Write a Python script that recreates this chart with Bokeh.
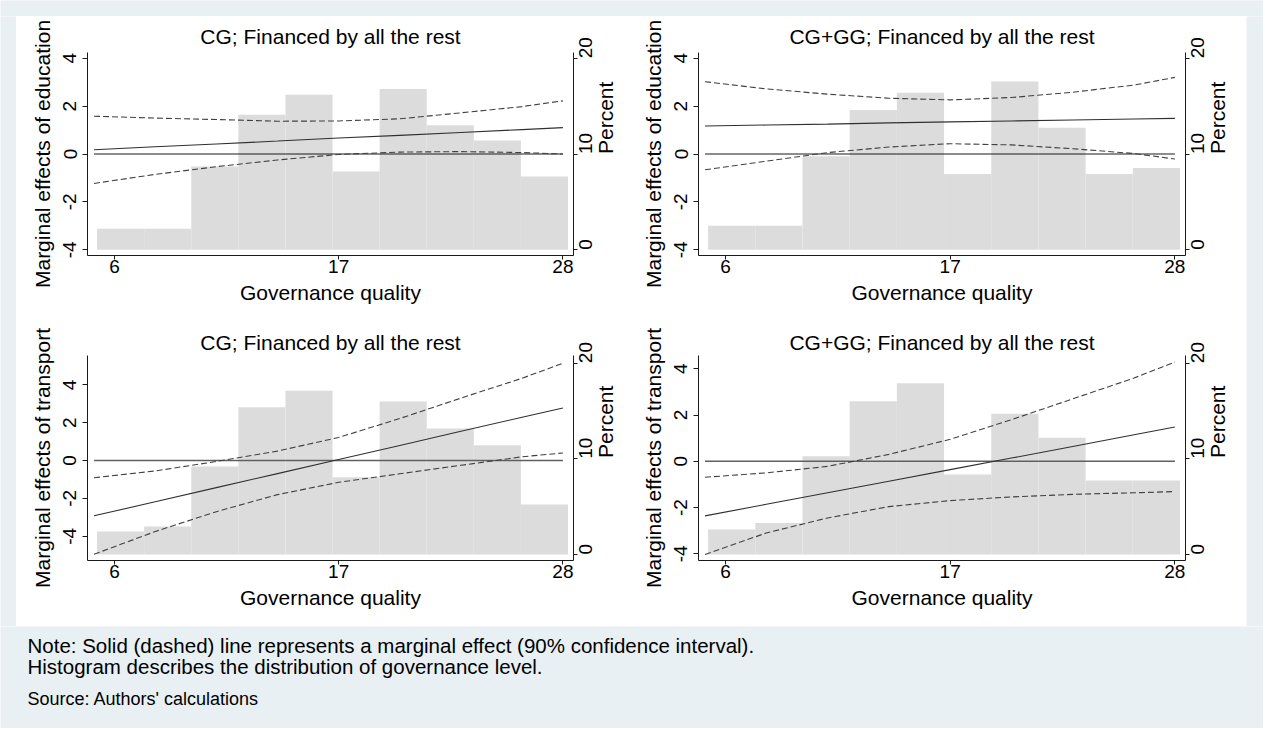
import math
from bokeh.plotting import figure
from bokeh.models import Range1d, LinearAxis, FixedTicker, Label
from bokeh.layouts import column, row
from bokeh.embed import file_html
from bokeh.resources import INLINE

FONT = "Liberation Sans"
BG = "#E8F0F3"
HIST = "#DCDCDC"
AX = "#1a1a1a"

# ---------------- data ----------------
gq = [5, 8, 11, 14, 17, 20, 23, 26, 28]
bin_edges = [5.15, 7.46, 9.77, 12.08, 14.39, 16.70, 19.01, 21.32, 23.63, 25.94, 28.25]
x_ticks = [6, 17, 28]
me_ticks = [-4, -2, 0, 2, 4]
me_tick_labels = {-4: "-4", -2: "-2", 0: "0", 2: "2", 4: "4"}
pct_ticks = [0, 10, 20]

titles = ["CG; Financed by all the rest", "CG+GG; Financed by all the rest",
          "CG; Financed by all the rest", "CG+GG; Financed by all the rest"]
ylabels = ["Marginal effects of education", "Marginal effects of education",
           "Marginal effects of transport", "Marginal effects of transport"]
xlabel = "Governance quality"
rlabel = "Percent"

# top-left: CG, education
edu_cg_me = [0.18, 0.30, 0.42, 0.54, 0.67, 0.78, 0.90, 1.02, 1.10]
edu_cg_hi = [1.58, 1.50, 1.44, 1.37, 1.38, 1.47, 1.72, 1.98, 2.22]
edu_cg_lo = [-1.23, -0.85, -0.53, -0.25, -0.02, 0.08, 0.10, 0.06, 0.00]
edu_cg_pct = [2.19, 2.19, 8.69, 14.11, 16.19, 8.16, 16.79, 12.99, 11.40, 7.64]

# top-right: CG+GG, education
edu_gg_me = [1.17, 1.21, 1.25, 1.30, 1.34, 1.38, 1.42, 1.46, 1.49]
edu_gg_hi = [3.02, 2.72, 2.50, 2.33, 2.26, 2.36, 2.58, 2.88, 3.20]
edu_gg_lo = [-0.66, -0.30, 0.06, 0.29, 0.43, 0.38, 0.22, 0.02, -0.21]
edu_gg_pct = [2.50, 2.50, 9.76, 14.60, 16.40, 7.92, 17.58, 12.75, 7.92, 8.55]

# bottom-left: CG, transport
tr_cg_me = [-2.92, -2.18, -1.43, -0.69, 0.06, 0.80, 1.55, 2.29, 2.78]
tr_cg_hi = [-0.91, -0.55, -0.05, 0.50, 1.22, 2.22, 3.30, 4.35, 5.14]
tr_cg_lo = [-4.95, -3.75, -2.70, -1.80, -1.15, -0.70, -0.25, 0.20, 0.40]
tr_cg_pct = [2.40, 2.93, 9.20, 15.40, 17.11, 8.08, 16.00, 13.17, 11.43, 5.23]

# bottom-right: CG+GG, transport
tr_gg_me = [-2.36, -1.86, -1.36, -0.86, -0.36, 0.14, 0.64, 1.15, 1.48]
tr_gg_hi = [-0.69, -0.50, -0.22, 0.30, 0.95, 1.80, 2.70, 3.60, 4.29]
tr_gg_lo = [-4.03, -3.10, -2.45, -1.96, -1.70, -1.54, -1.43, -1.36, -1.31]
tr_gg_pct = [2.61, 3.28, 10.28, 16.03, 17.91, 8.36, 14.71, 12.20, 7.74, 7.74]

note_lines = ["Note: Solid (dashed) line represents a marginal effect (90% confidence interval).",
              "Histogram describes the distribution of governance level."]
source_line = "Source: Authors' calculations"


def panel(title, ylabel, me, hi, lo, pct, yr, pr, mb, title_standoff, zero_color, zero_w):
    p = figure(width=615, height=305, x_range=Range1d(4.68, 28.52), y_range=Range1d(*yr),
               output_backend="svg", toolbar_location=None, title=title,
               min_border_left=mb[0], min_border_right=mb[1],
               min_border_top=mb[2], min_border_bottom=mb[3],
               background_fill_color="white", border_fill_color="white",
               outline_line_color=None)
    p.extra_y_ranges = {"pct": Range1d(*pr)}
    p.xgrid.visible = False
    p.ygrid.visible = False

    p.title.text_font = FONT
    p.title.text_font_size = "21px"
    p.title.text_font_style = "normal"
    p.title.text_color = "black"
    p.title.align = "center"
    p.title.standoff = title_standoff

    p.quad(left=bin_edges[:-1], right=bin_edges[1:], bottom=0, top=pct,
           y_range_name="pct", fill_color=HIST, line_color=None)
    p.line(x=[gq[0], gq[-1]], y=[0, 0], line_color=zero_color, line_width=zero_w)
    p.line(x=gq, y=me, line_color="#303030", line_width=1.1)
    p.line(x=gq, y=hi, line_color="#404040", line_width=1.1, line_dash="6 3")
    p.line(x=gq, y=lo, line_color="#404040", line_width=1.1, line_dash="6 3")

    def style(ax):
        ax.axis_line_color = AX
        ax.major_tick_line_color = AX
        ax.minor_tick_line_color = None
        ax.major_tick_in = 0
        ax.major_label_text_font = FONT
        ax.major_label_text_font_size = "19px"
        ax.major_label_text_color = "black"
        ax.axis_label_text_font = FONT
        ax.axis_label_text_font_style = "normal"
        ax.axis_label_text_color = "black"
        ax.axis_label_text_font_size = "21px"

    xa = p.xaxis[0]
    style(xa)
    xa.ticker = FixedTicker(ticks=x_ticks)
    xa.major_tick_out = 4
    xa.major_label_standoff = 0
    xa.axis_label = xlabel
    xa.axis_label_standoff = 5

    ya = p.yaxis[0]
    style(ya)
    ya.ticker = FixedTicker(ticks=me_ticks)
    ya.major_label_overrides = me_tick_labels
    ya.major_tick_out = 5
    ya.major_label_standoff = 6
    ya.major_label_orientation = "vertical"
    ya.axis_label = ylabel
    ya.axis_label_standoff = 7

    ra = LinearAxis(y_range_name="pct", ticker=FixedTicker(ticks=pct_ticks))
    style(ra)
    ra.major_tick_out = 4
    ra.major_label_standoff = 8
    ra.major_label_orientation = math.pi / 2
    ra.axis_label = rlabel
    ra.axis_label_standoff = 4
    try:
        ra.axis_label_orientation = math.pi / 2
    except Exception:
        pass
    p.add_layout(ra, "right")
    return p


p1 = panel(titles[0], ylabels[0], edu_cg_me, edu_cg_hi, edu_cg_lo, edu_cg_pct,
           (-4.24, 4.24), (-0.6, 20.6), (71, 58, 36, 66), 10, "#1a1a1a", 1.0)
p2 = panel(titles[1], ylabels[1], edu_gg_me, edu_gg_hi, edu_gg_lo, edu_gg_pct,
           (-4.24, 4.24), (-0.6, 20.6), (67, 61, 36, 66), 10, "#1a1a1a", 1.0)
p3 = panel(titles[2], ylabels[2], tr_cg_me, tr_cg_hi, tr_cg_lo, tr_cg_pct,
           (-5.28, 5.55), (-0.63, 20.8), (71, 58, 34, 66), 4, "#606060", 1.6)
p4 = panel(titles[3], ylabels[3], tr_gg_me, tr_gg_hi, tr_gg_lo, tr_gg_pct,
           (-4.29, 4.575), (-0.63, 20.8), (67, 61, 34, 66), 4, "#606060", 1.6)


def blank(w, h):
    return figure(width=w, height=h, x_axis_type=None, y_axis_type=None, min_border=0,
                  output_backend="svg", toolbar_location=None, outline_line_color=None,
                  background_fill_color=BG, border_fill_color=BG)


W = 1263
notes = figure(width=W, height=102, x_range=Range1d(0, W), y_range=Range1d(102, 0),
               x_axis_type=None, y_axis_type=None, min_border=0, output_backend="svg",
               toolbar_location=None, outline_line_color=None,
               background_fill_color=BG, border_fill_color=BG)
notes.add_layout(Label(x=27, y=19, text=note_lines[0], text_font=FONT, text_font_size="20.5px",
                       text_baseline="alphabetic", text_color="black"))
notes.add_layout(Label(x=27, y=39.5, text=note_lines[1], text_font=FONT, text_font_size="20.5px",
                       text_baseline="alphabetic", text_color="black"))
notes.add_layout(Label(x=27, y=72.5, text=source_line, text_font=FONT, text_font_size="18px",
                       text_baseline="alphabetic", text_color="black"))

grid = column(row(p1, p2), row(p3, p4))
page = column(blank(W, 16), row(blank(16, 610), grid, blank(W - 16 - 1230, 610)), notes)

open("out.html", "w").write(file_html(page, INLINE))
